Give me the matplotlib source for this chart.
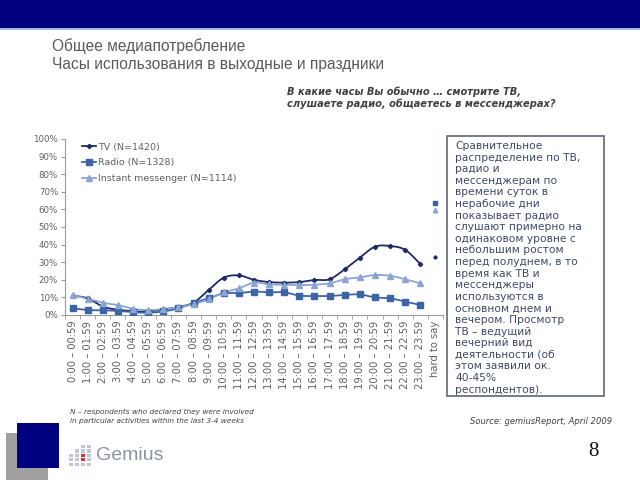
import numpy as np
import matplotlib
matplotlib.use("Agg")
import matplotlib.pyplot as plt
from matplotlib.patches import Rectangle

categories = ["0:00 – 00:59", "1:00 – 01:59", "2:00 – 02:59", "3:00 – 03:59",
              "4:00 – 04:59", "5:00 – 05:59", "6:00 – 06:59", "7:00 – 07:59",
              "8:00 – 08:59", "9:00 – 09:59", "10:00 – 10:59", "11:00 – 11:59",
              "12:00 – 12:59", "13:00 – 13:59", "14:00 – 14:59", "15:00 – 15:59",
              "16:00 – 16:59", "17:00 – 17:59", "18:00 – 18:59", "19:00 – 19:59",
              "20:00 – 20:59", "21:00 – 21:59", "22:00 – 22:59", "23:00 – 23:59",
              "hard to say"]
tv = [11, 9.5, 4.8, 3, 2.2, 2, 3.2, 4.5, 7, 14.2, 21.2, 22.5, 20, 18.7, 18.4,
      18.7, 19.9, 20.3, 26, 32.6, 38.8, 39.2, 37, 29]
tv_hard = 33
radio = [3.8, 2.8, 2.7, 2.3, 1.6, 1.3, 2, 3.8, 6.8, 9.5, 12.3, 12.5, 13.3, 12.9,
         12.9, 11, 10.8, 10.8, 11.4, 11.7, 10, 9.5, 7.6, 5.7]
radio_hard = 63.8
im = [11.4, 9.2, 7, 5.6, 3.5, 2.8, 3.3, 4.4, 6.2, 8.9, 12.9, 15.1, 18.4, 17.4,
      17.2, 17, 17.2, 18, 20.3, 21.4, 22.7, 22.3, 20.3, 18]
im_hard = 59.5
series_labels = ["TV (N=1420)", "Radio (N=1328)", "Instant messenger (N=1114)"]

box_lines = ["Сравнительное", "распределение по ТВ,", "радио и",
             "мессенджерам по", "времени суток в", "нерабочие дни",
             "показывает радио", "слушают примерно на", "одинаковом уровне с",
             "небольшим ростом", "перед полуднем, в то", "время как ТВ и",
             "мессенджеры", "используются в", "основном днем и",
             "вечером. Просмотр", "ТВ – ведущий", "вечерний вид",
             "деятельности (об", "этом заявили ок.", "40-45%",
             "респондентов)."]


def smooth(y, n=12):
    y = np.asarray(y, float)
    x = np.arange(len(y), dtype=float)
    P = np.concatenate([[2 * y[0] - y[1]], y, [2 * y[-1] - y[-2]]])
    xs, ys = [], []
    for i in range(len(y) - 1):
        p0, p1, p2, p3 = P[i], P[i + 1], P[i + 2], P[i + 3]
        t = np.linspace(0, 1, n, endpoint=False)
        yy = 0.5 * ((2 * p1) + (-p0 + p2) * t + (2 * p0 - 5 * p1 + 4 * p2 - p3) * t ** 2
                    + (-p0 + 3 * p1 - 3 * p2 + p3) * t ** 3)
        xs.append(x[i] + t)
        ys.append(yy)
    xs.append([x[-1]])
    ys.append([y[-1]])
    return np.concatenate(xs), np.concatenate(ys)


W, H = 640, 480
fig = plt.figure(figsize=(6.4, 4.8), dpi=100)
fig.patch.set_facecolor("white")

# decoration layer in pixel coords
deco = fig.add_axes([0, 0, 1, 1])
deco.set_xlim(0, W)
deco.set_ylim(H, 0)
deco.axis("off")
deco.add_patch(Rectangle((0, 0), W, 28, color="#020280", lw=0))
deco.add_patch(Rectangle((0, 28), W, 2, color="#a9b8de", lw=0))
deco.text(52, 46, "Общее медиапотребление", fontsize=11.2, color="#5a5a5a",
          family="Liberation Sans", va="center")
deco.text(52, 65, "Часы использования в выходные и праздники", fontsize=11.2,
          color="#5a5a5a", family="Liberation Sans", va="center")
deco.text(287, 92, "В какие часы Вы обычно … смотрите ТВ,", fontsize=7.1,
          color="#404040", weight="bold", style="italic", va="center")
deco.text(287, 104, "слушаете радио, общаетесь в мессенджерах?", fontsize=7.1,
          color="#404040", weight="bold", style="italic", va="center")

# text box
deco.add_patch(Rectangle((447, 136), 157, 260, fill=False, ec="#5f6675", lw=1.2))
for i, line in enumerate(box_lines):
    deco.text(455, 146 + i * 11.6, line, fontsize=7.7, color="#3c4a66",
              va="center", ha="left")

deco.text(70, 412, "N – respondents who declared they were involved",
          fontsize=5.3, style="italic", color="#404040", va="center")
deco.text(70, 421, "in particular activities within the last 3-4 weeks",
          fontsize=5.3, style="italic", color="#404040", va="center")
deco.text(612, 422, "Source: gemiusReport, April 2009", fontsize=6,
          style="italic", color="#404040", va="center", ha="right")
deco.text(588, 452, "8", fontsize=15, family="Liberation Serif", color="#111111",
          va="center")

# logo squares
deco.add_patch(Rectangle((6, 433), 42, 47, color="#a0a0a0", lw=0))
deco.add_patch(Rectangle((17, 423), 42, 45, color="#020280", lw=0))
for cx in range(4):
    for cy in range(5):
        col = "#d83030" if (cx == 2 and cy in (2, 3)) else "#c0c6d4"
        if cy + cx >= 2:
            deco.add_patch(Rectangle((69 + cx * 6, 445 + cy * 4.4), 4.2, 3.2,
                                     color=col, lw=0))
deco.text(96, 455, "Gemius", fontsize=14, color="#8a93a6",
          family="Liberation Sans", va="center")

# chart
ax = fig.add_axes([65 / W, 1 - 315 / H, (443 - 65) / W, (315 - 139) / H])
x = np.arange(len(categories))
n = len(tv)
specs = [
    (tv, tv_hard, "#1e2a66", "D", 2.2, series_labels[0]),
    (radio, radio_hard, "#3d64a6", "s", 4.0, series_labels[1]),
    (im, im_hard, "#8aa5d3", "^", 4.0, series_labels[2]),
]
for vals, hard, col, mk, ms, lab in specs:
    sx, sy = smooth(vals)
    ax.plot(sx, sy, color=col, lw=1.3, zorder=3)
    ax.plot(x[:n], vals, ls="none", marker=mk, ms=ms, color=col, zorder=4)
    ax.plot([x[n]], [hard], ls="none", marker=mk, ms=ms * 0.8, color=col, zorder=4)
    ax.plot([], [], color=col, lw=1.3, marker=mk, ms=ms, label=lab)

ax.set_xlim(-0.5, len(categories) - 0.5)
ax.set_ylim(0, 100)
ax.set_yticks(np.arange(0, 101, 10))
ax.set_yticklabels([f"{v}%" for v in range(0, 101, 10)])
ax.set_xticks(x)
ax.set_xticklabels(categories, rotation=90)
ax.set_xticks(np.arange(-0.5, len(categories), 1), minor=True)
ax.tick_params(axis="x", which="major", length=0, pad=4, labelsize=7.2,
               labelcolor="#606060")
ax.tick_params(axis="x", which="minor", length=3, color="#9a9a9a", direction="out")
ax.tick_params(axis="y", length=3, color="#9a9a9a", labelsize=6.2,
               labelcolor="#606060", pad=2)
for s in ["top", "right"]:
    ax.spines[s].set_visible(False)
for s in ["left", "bottom"]:
    ax.spines[s].set_color("#9a9a9a")
    ax.spines[s].set_linewidth(0.8)
ax.patch.set_alpha(0)
leg = ax.legend(loc="upper left", bbox_to_anchor=(0.035, 1.0), frameon=False,
                fontsize=6.8, handlelength=1.5, handletextpad=0.2,
                labelspacing=0.7, borderaxespad=0)
for t in leg.get_texts():
    t.set_color("#606060")

fig.savefig("out.png", dpi=100)
